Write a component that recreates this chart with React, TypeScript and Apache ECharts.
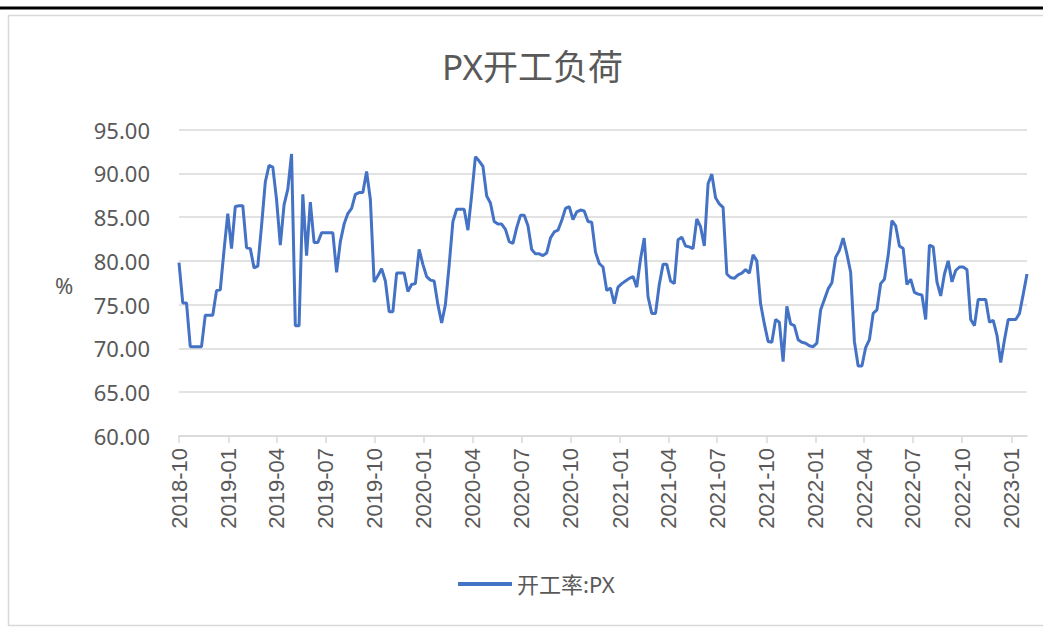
import React, { useEffect, useRef } from "react";
import * as echarts from "echarts";

const titleText = "PX开工负荷";
const seriesName = "开工率:PX";
const startDate = [2018, 9, 1]; // first weekly observation (year, monthIndex, day)
const yTicks = [60, 65, 70, 75, 80, 85, 90, 95];
const quarterTicks = [
  "2018-10", "2019-01", "2019-04", "2019-07", "2019-10", "2020-01", "2020-04", "2020-07",
  "2020-10", "2021-01", "2021-04", "2021-07", "2021-10", "2022-01", "2022-04", "2022-07",
  "2022-10", "2023-01",
];
const values = [
  79.8, 75.2, 75.2, 70.2, 70.2, 70.2, 70.2, 73.8, 73.8, 73.8,
  76.6, 76.7, 81.2, 85.4, 81.4, 86.2, 86.3, 86.3, 81.5, 81.4,
  79.2, 79.4, 84.0, 89.0, 90.9, 90.7, 87.0, 81.8, 86.4, 88.2,
  92.2, 72.6, 72.6, 87.6, 80.6, 86.7, 82.1, 82.1, 83.2, 83.2,
  83.2, 83.2, 78.7, 82.2, 84.2, 85.4, 86.0, 87.6, 87.8, 87.8,
  90.2, 87.0, 77.6, 78.3, 79.1, 77.7, 74.2, 74.2, 78.6, 78.6,
  78.6, 76.5, 77.3, 77.4, 81.3, 79.6, 78.2, 77.8, 77.7, 75.0,
  72.9, 75.0, 79.5, 84.5, 85.9, 85.9, 85.9, 83.5, 87.5, 91.9,
  91.4, 90.8, 87.4, 86.6, 84.5, 84.2, 84.2, 83.6, 82.2, 82.0,
  83.8, 85.2, 85.2, 84.0, 81.3, 80.8, 80.8, 80.6, 80.9, 82.6,
  83.3, 83.5, 84.6, 86.0, 86.2, 84.7, 85.6, 85.8, 85.7, 84.5,
  84.4, 81.0, 79.7, 79.3, 76.6, 76.9, 75.1, 77.0, 77.4, 77.7,
  78.0, 78.2, 77.0, 80.2, 82.6, 75.9, 74.0, 74.0, 77.3, 79.6,
  79.6, 77.7, 77.4, 82.4, 82.7, 81.7, 81.6, 81.4, 84.8, 83.9,
  81.7, 88.8, 89.9, 87.2, 86.5, 86.1, 78.5, 78.1, 78.0, 78.4,
  78.6, 79.0, 78.6, 80.7, 80.0, 75.1, 72.8, 70.8, 70.7, 73.3,
  73.0, 68.5, 74.8, 72.8, 72.6, 71.0, 70.7, 70.6, 70.3, 70.2,
  70.6, 74.4, 75.6, 76.8, 77.5, 80.4, 81.2, 82.6, 80.8, 78.7,
  70.8, 68.0, 68.0, 70.1, 71.0, 74.0, 74.4, 77.4, 77.9, 80.6,
  84.6, 84.0, 81.7, 81.4, 77.3, 77.9, 76.4, 76.2, 76.1, 73.3,
  81.8, 81.6, 77.6, 76.0, 78.5, 80.0, 77.6, 78.9, 79.3, 79.3,
  79.0, 73.3, 72.6, 75.6, 75.6, 75.6, 73.0, 73.2, 71.5, 68.4,
  71.0, 73.3, 73.3, 73.3, 74.0, 76.2, 78.5,
];

const GRAY_TEXT = "#595959";
const GRID = "#d9d9d9";
const LINE = "#4472C4";

function weekDate(i: number): number {
  return new Date(startDate[0], startDate[1], startDate[2] + 7 * i).getTime();
}
function monthTs(label: string): number {
  const [y, m] = label.split("-").map(Number);
  return new Date(y, m - 1, 1).getTime();
}
function fmt(v: number): string {
  const d = new Date(v);
  const m = d.getMonth() + 1;
  return d.getFullYear() + "-" + (m < 10 ? "0" + m : "" + m);
}

export default function App() {
  const ref = useRef<HTMLDivElement>(null);
  useEffect(() => {
    if (!ref.current) return;
    const chart = echarts.init(ref.current, undefined, { renderer: "svg" });
    const data = values.map((v, i) => [weekDate(i), v]);
    const qTs = quarterTicks.map(monthTs);
    const font = "'Noto Sans', 'Noto Sans CJK SC', sans-serif";
    chart.setOption({
      animation: false,
      backgroundColor: "#ffffff",
      textStyle: { fontFamily: font },
      title: {
        text: titleText,
        left: 437,
        top: 44,
        textStyle: { fontSize: 35, fontWeight: "normal", color: GRAY_TEXT, fontFamily: font },
      },
      graphic: [
        { type: "line", shape: { x1: 0, y1: 8, x2: 1043, y2: 8 }, style: { stroke: "#000", lineWidth: 3 } },
        { type: "rect", shape: { x: 8.5, y: 15.5, width: 1100, height: 610 }, style: { fill: "none", stroke: GRID, lineWidth: 1.5 } },
        { type: "text", left: 55, top: 274, style: { text: "%", fontSize: 22, fill: GRAY_TEXT, fontFamily: font } },
      ],
      legend: {
        left: 453,
        top: 568,
        icon: "rect",
        itemWidth: 54,
        itemHeight: 4,
        itemGap: 6,
        textStyle: { fontSize: 22, color: GRAY_TEXT, fontFamily: font },
        data: [seriesName],
      },
      grid: { left: 179, right: 16, top: 129.5, bottom: 201, containLabel: false },
      xAxis: {
        type: "value",
        min: weekDate(0),
        max: weekDate(values.length - 1),
        axisLine: { show: true, lineStyle: { color: GRID, width: 1.5 } },
        axisTick: { show: true, length: 7, inside: false, customValues: qTs, lineStyle: { color: GRID, width: 1.5 } },
        axisLabel: {
          customValues: qTs,
          rotate: 90,
          margin: 12,
          fontSize: 22,
          color: GRAY_TEXT,
          fontFamily: "'Liberation Sans', Arial, sans-serif",
          formatter: (v: number) => fmt(v),
        },
        splitLine: { show: false },
      },
      yAxis: {
        type: "value",
        min: yTicks[0],
        max: yTicks[yTicks.length - 1],
        interval: 5,
        axisLine: { show: false },
        axisTick: { show: false },
        axisLabel: { fontSize: 22, color: GRAY_TEXT, margin: 29, formatter: (v: number) => v.toFixed(2) },
        splitLine: { lineStyle: { color: GRID, width: 1.5 } },
      },
      series: [
        {
          name: seriesName,
          type: "line",
          data,
          showSymbol: false,
          symbol: "none",
          lineStyle: { color: LINE, width: 3 },
          itemStyle: { color: LINE },
        },
      ],
    });
    return () => chart.dispose();
  }, []);
  return (
    <div style={{ position: "fixed", left: 0, top: 0, width: 1043, height: 637, background: "#fff" }}>
      <div ref={ref} style={{ width: 1043, height: 637 }} />
    </div>
  );
}
